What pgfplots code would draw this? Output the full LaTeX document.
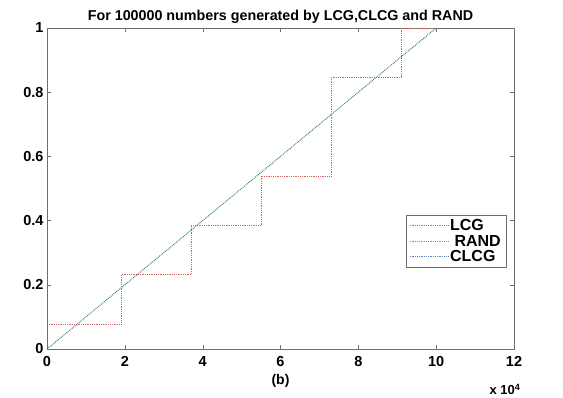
\documentclass[border=0pt]{standalone}
\usepackage{fontspec}
\setmainfont{Liberation Sans}
\usepackage{pgfplots}
\pgfplotsset{compat=1.18}
\definecolor{axgray}{RGB}{110,110,110}
\definecolor{lcgred}{RGB}{210,100,100}
\definecolor{randgreen}{RGB}{80,190,90}
\definecolor{clcgblue}{RGB}{60,100,170}
\begin{document}
\begin{tikzpicture}
\useasboundingbox (-47pt,-49pt) rectangle (516pt,349pt);
\begin{axis}[
  scale only axis, width=467pt, height=321pt,
  xmin=0, xmax=120000, ymin=0, ymax=1,
  xtick={0,20000,40000,60000,80000,100000,120000},
  xticklabels={0,2,4,6,8,10,12},
  scaled x ticks=false,
  ytick={0,0.2,0.4,0.6,0.8,1},
  yticklabels={0,0.2,0.4,0.6,0.8,1},
  tick align=inside, major tick length=4pt,
  axis line style={axgray}, tick style={axgray},
  /pgf/number format/assume math mode=true,
  ticklabel style={font=\bfseries\fontsize{14.5}{14.5}\selectfont},
  xticklabel style={yshift=-4pt},
  yticklabel style={xshift=0pt},
  title={For 100000 numbers generated by LCG,CLCG and RAND},
  title style={font=\bfseries\fontsize{14.3}{14.3}\selectfont, yshift=-5pt},
  xlabel={(b)},
  xlabel style={font=\bfseries\fontsize{14}{14}\selectfont, yshift=-1pt},
  legend style={at={(rel axis cs:0.769,0.417)}, anchor=north west, draw=axgray,
    font=\bfseries\fontsize{16}{16}\selectfont, inner xsep=3pt, inner ysep=2pt,
    row sep=-1pt},
  legend cell align=left,
  legend image code/.code={\draw[#1] (0pt,0pt) -- (38pt,0pt);},
]
\addplot[lcgred, densely dotted, line width=0.8pt] coordinates {
  (0,0.077) (19000,0.077) (19000,0.231) (37000,0.231) (37000,0.384)
  (55000,0.384) (55000,0.539) (73100,0.539) (73100,0.847) (91000,0.847)
  (91000,1) (100000,1)};
\addlegendentry{LCG}
\addplot[randgreen, densely dotted, line width=0.8pt] coordinates {(0,0) (100000,1)};
\addlegendentry{\ RAND}
\addplot[clcgblue, densely dotted, line width=0.8pt, opacity=0.8] coordinates {(0,0) (100000,1)};
\addlegendentry{CLCG}
\end{axis}
\node[font=\bfseries\fontsize{13}{13}\selectfont, anchor=base] at (458pt,-46pt) {x 10\textsuperscript{4}};
\end{tikzpicture}
\end{document}
